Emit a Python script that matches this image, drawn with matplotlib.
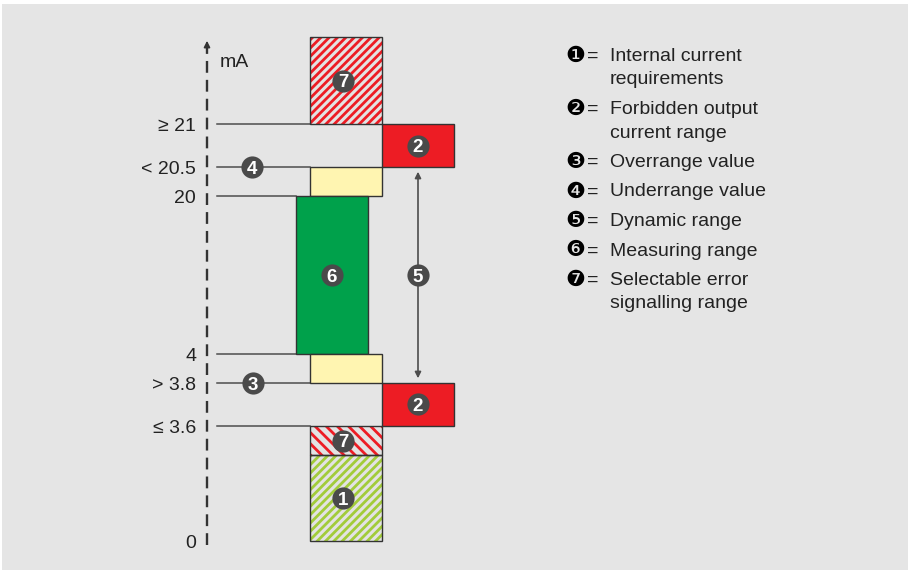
import numpy as np
import matplotlib
matplotlib.use("Agg")
import matplotlib.pyplot as plt
from matplotlib.patches import Rectangle

plt.rcParams['font.family'] = ['Liberation Sans', 'DejaVu Sans']
plt.rcParams['hatch.linewidth'] = 2.0

# current levels on the mA axis
levels = [0, 3.6, 3.8, 4, 20, 20.5, 21]
level_labels = ['0', '≤ 3.6', '> 3.8', '4', '20', '< 20.5', '≥ 21']

# ranges in mA (low, high)
internal_req = (0, 3.2)
error_low = (3.2, 3.6)
forbidden_low = (3.6, 3.8)
yellow_low = (3.8, 4)
measuring = (4, 20)
yellow_high = (20, 20.5)
forbidden_high = (20.5, 21)
error_high = (21, 24)
dynamic = (3.8, 20.5)

legend_nums = ['❶', '❷', '❸', '❹', '❺', '❻', '❼']
legend_texts = ['Internal current\nrequirements', 'Forbidden output\ncurrent range',
                'Overrange value', 'Underrange value', 'Dynamic range',
                'Measuring range', 'Selectable error\nsignalling range']

# schematic (not to scale) axis: mA -> pixel row
scale_mA = [-1, 0, 3.2, 3.6, 3.8, 4, 20, 20.5, 21, 24, 26]
scale_px = [570, 541, 455, 426, 383, 354, 196, 167, 124, 37, 0]


def fwd(v):
    return -np.interp(v, scale_mA, scale_px)


def inv(y):
    return np.interp(-np.asarray(y), scale_px[::-1], scale_mA[::-1])


W, H = 908, 570
fig = plt.figure(figsize=(W / 100, H / 100), dpi=100, facecolor='white')
fig.patches.append(Rectangle((2 / W, 0), 1, (H - 4) / H, transform=fig.transFigure,
                             facecolor='#e5e5e5', edgecolor='none', zorder=-10))

ax = fig.add_axes([0, 0, 1, 1])
ax.set_yscale('function', functions=(fwd, inv))
ax.set_xlim(0, W)
ax.set_ylim(-1, 26)
ax.axis('off')

line_c = '#4d4d4d'
edge_c = '#333333'
circ_c = '#4a4a4a'
red = '#ed1c24'
green = '#00a14b'
yellow = '#fff5b1'
lime = '#a2cc3a'

main_x = (310, 382)
green_x = (296, 368)
right_x = (382, 454)

# horizontal level lines
line_ends = {0: None, 3.6: 310, 3.8: 310, 4: 296, 20: 296, 20.5: 310, 21: 310}
for lv in levels:
    if line_ends[lv] is not None:
        ax.plot([217, line_ends[lv]], [lv, lv], color=line_c, lw=1.1, zorder=1)


def box(xr, rng, color, hatch=None, hatch_color=None):
    x0, x1 = xr
    lo, hi = rng
    if hatch:
        ax.add_patch(Rectangle((x0, lo), x1 - x0, hi - lo, facecolor='#e3e3e3',
                               edgecolor=hatch_color, hatch=hatch, lw=0, zorder=2))
        color = 'none'
    ax.add_patch(Rectangle((x0, lo), x1 - x0, hi - lo, facecolor=color,
                           edgecolor=edge_c, lw=1.0, zorder=3))


box(main_x, error_high, None, '////', red)
box(right_x, forbidden_high, red)
box(main_x, yellow_high, yellow)
box(green_x, measuring, green)
box(main_x, yellow_low, yellow)
box(right_x, forbidden_low, red)
box(main_x, error_low, None, '\\\\\\', red)
box(main_x, internal_req, None, '////', lime)

# dynamic range arrow
ax.annotate('', xy=(418, dynamic[1]), xytext=(418, dynamic[0]),
            arrowprops=dict(arrowstyle='<|-|>', color=line_c, lw=1.2,
                            shrinkA=3.4, shrinkB=3.4, mutation_scale=9), zorder=2)

# numbered circles
circles = [('7', 343, np.mean(error_high)), ('2', 418, np.mean(forbidden_high)),
           ('4', 252, forbidden_high[0]), ('6', 332, np.mean(measuring)),
           ('5', 418, np.mean(measuring)), ('3', 253, yellow_low[0]),
           ('2', 418, np.mean(forbidden_low)), ('7', 343, np.mean(error_low)),
           ('1', 343, np.mean(internal_req))]
for num, cx, cy in circles:
    ax.scatter([cx], [cy], s=255, color=circ_c, zorder=6, linewidths=0)
    ax.annotate(num, (cx, cy), xytext=(0, -4.8), textcoords='offset points',
                ha='center', va='baseline', color='white', fontsize=13.5,
                fontweight='bold', zorder=7)

# tick labels
for lv, lab in zip(levels, level_labels):
    ax.annotate(lab, (196, lv), xytext=(0, -5), textcoords='offset points',
                ha='right', va='baseline', fontsize=14, color='#222222')

# overlay in pixel coordinates for axis and key
ov = fig.add_axes([0, 0, 1, 1])
ov.set_xlim(0, W)
ov.set_ylim(H, 0)
ov.axis('off')

ov.plot([207, 207], [545, 46], color='#333333', lw=1.7, dashes=(5, 3))
ov.annotate('', xy=(207, 38), xytext=(207, 48),
            arrowprops=dict(arrowstyle='-|>', color='#333333', lw=1.2, mutation_scale=9))
ov.text(220, 67, 'mA', fontsize=14, color='#222222', va='baseline')

y = 61
for num, txt in zip(legend_nums, legend_texts):
    ov.text(575, y + 1, num, family='DejaVu Sans', fontsize=16, ha='center',
            va='baseline', color='black')
    ov.text(593, y, '=', fontsize=14, ha='center', va='baseline', color='#222222')
    for i, ln in enumerate(txt.split('\n')):
        ov.text(610, y + i * 23.5, ln, fontsize=14, va='baseline', color='#222222')
        last = y + i * 23.5
    y = last + 29.5

fig.savefig('out.png', dpi=100, facecolor=fig.get_facecolor())
